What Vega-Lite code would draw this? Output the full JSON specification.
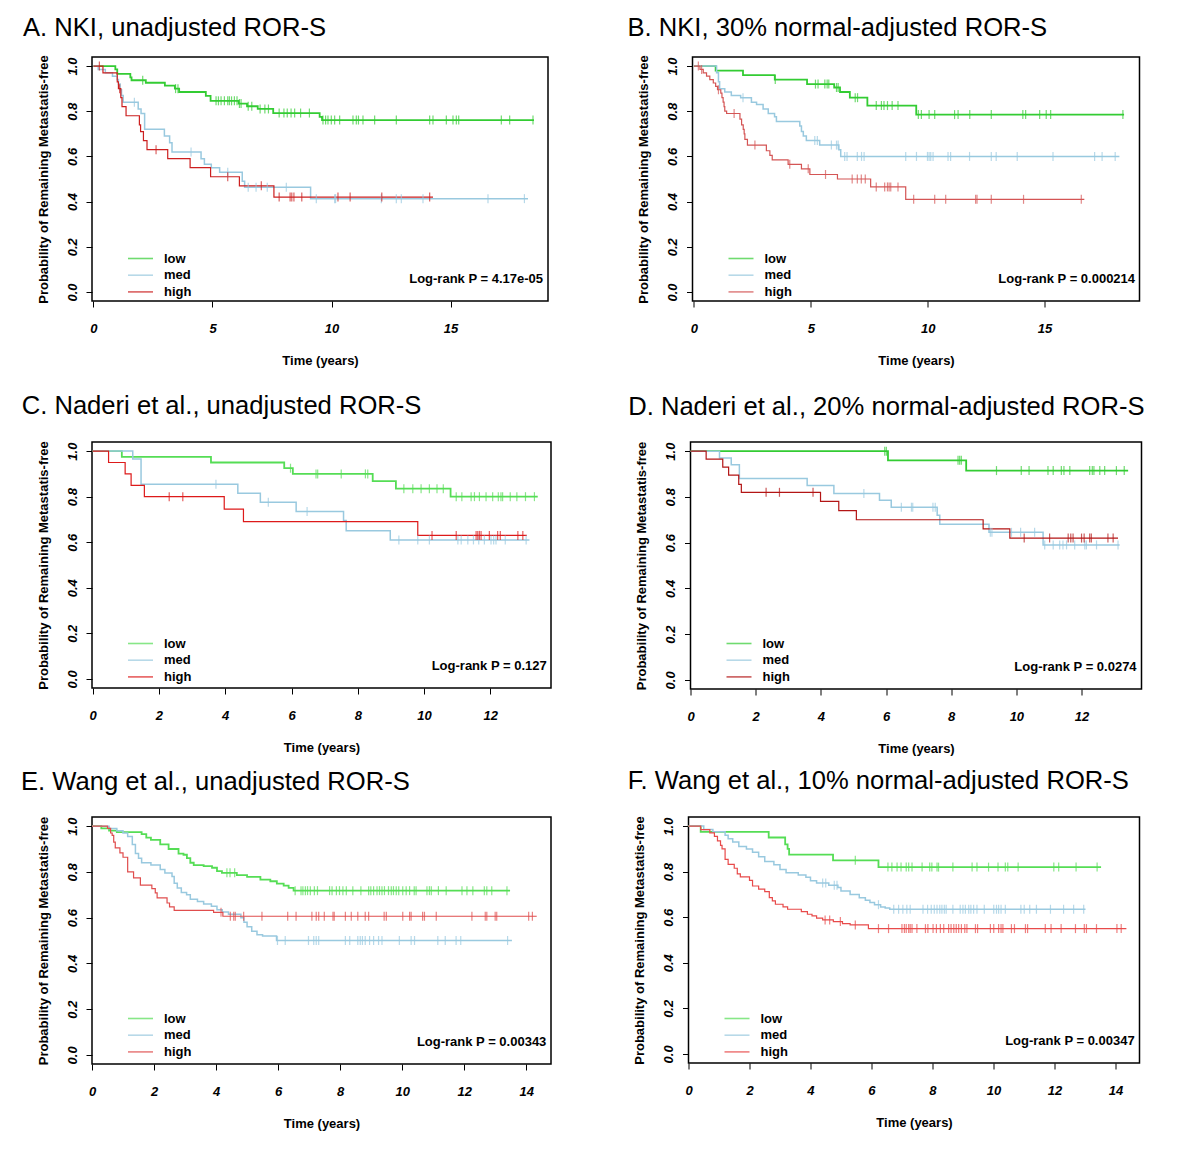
{
"$schema": "https://vega.github.io/schema/vega-lite/v6.json",
"background": "white",
"padding": {"left": 20, "top": 15, "right": 5, "bottom": 5},
"config": {
  "font": "Liberation Sans",
  "view": {"stroke": "black", "strokeWidth": 1.5},
  "title": {"font": "Liberation Sans", "fontSize": 25.6, "fontWeight": "normal", "color": "black", "anchor": "start", "frame": "bounds"},
  "axis": {"domain": false, "grid": false, "tickColor": "black", "tickSize": 6, "tickWidth": 1, "labelFont": "Liberation Sans", "labelFontSize": 13, "labelFontStyle": "italic", "labelFontWeight": "bold", "labelColor": "black", "labelFlush": false, "labelOverlap": false, "titleFont": "Liberation Sans", "titleFontSize": 13, "titleFontWeight": "bold", "titleColor": "black"},
  "axisX": {"labelPadding": 15, "titlePadding": 19},
  "axisY": {"labelAngle": 270, "labelAlign": "center", "labelBaseline": "bottom", "labelPadding": 7, "titlePadding": 16},
  "legend": {"orient": "none", "legendX": 35, "legendY": 194, "title": null, "symbolType": "stroke", "symbolSize": 625, "symbolStrokeWidth": 1.6, "clipHeight": 15, "rowPadding": 1.7, "labelFont": "Liberation Sans", "labelFontSize": 13, "labelFontWeight": "bold", "labelColor": "black", "labelOffset": 10, "padding": 0},
  "text": {"font": "Liberation Sans", "fontSize": 13, "fontWeight": "bold", "color": "black"}
},
"datasets": {
"A": [
{"group":"low","time":0,"surv":1,"type":"step"},{"group":"low","time":0.92,"surv":0.985,"type":"step"},{"group":"low","time":1.0,"surv":0.965,"type":"step"},{"group":"low","time":1.55,"surv":0.95,"type":"step"},{"group":"low","time":1.6,"surv":0.937,"type":"step"},{"group":"low","time":2.2,"surv":0.926,"type":"step"},{"group":"low","time":3.0,"surv":0.913,"type":"step"},{"group":"low","time":3.42,"surv":0.9,"type":"step"},{"group":"low","time":3.6,"surv":0.885,"type":"step"},{"group":"low","time":4.72,"surv":0.868,"type":"step"},{"group":"low","time":4.92,"surv":0.846,"type":"step"},{"group":"low","time":6.1,"surv":0.834,"type":"step"},{"group":"low","time":6.45,"surv":0.822,"type":"step"},{"group":"low","time":6.9,"surv":0.81,"type":"step"},{"group":"low","time":7.55,"surv":0.792,"type":"step"},{"group":"low","time":9.5,"surv":0.775,"type":"step"},{"group":"low","time":9.6,"surv":0.761,"type":"step"},{"group":"low","time":18.5,"surv":0.761,"type":"end"},
{"group":"low","time":2.07,"surv":0.937,"type":"censor"},{"group":"low","time":3.45,"surv":0.9,"type":"censor"},{"group":"low","time":3.55,"surv":0.9,"type":"censor"},
{"group":"low","time":5.15,"surv":0.846,"type":"censor"},{"group":"low","time":5.25,"surv":0.846,"type":"censor"},{"group":"low","time":5.36,"surv":0.846,"type":"censor"},{"group":"low","time":5.5,"surv":0.846,"type":"censor"},{"group":"low","time":5.64,"surv":0.846,"type":"censor"},{"group":"low","time":5.71,"surv":0.846,"type":"censor"},{"group":"low","time":5.8,"surv":0.846,"type":"censor"},{"group":"low","time":5.92,"surv":0.846,"type":"censor"},{"group":"low","time":6.03,"surv":0.846,"type":"censor"},
{"group":"low","time":6.13,"surv":0.834,"type":"censor"},{"group":"low","time":6.2,"surv":0.834,"type":"censor"},{"group":"low","time":6.5,"surv":0.822,"type":"censor"},{"group":"low","time":6.65,"surv":0.822,"type":"censor"},{"group":"low","time":7.0,"surv":0.81,"type":"censor"},{"group":"low","time":7.2,"surv":0.81,"type":"censor"},{"group":"low","time":7.35,"surv":0.81,"type":"censor"},
{"group":"low","time":7.8,"surv":0.792,"type":"censor"},{"group":"low","time":8.0,"surv":0.792,"type":"censor"},{"group":"low","time":8.14,"surv":0.792,"type":"censor"},{"group":"low","time":8.3,"surv":0.792,"type":"censor"},{"group":"low","time":8.45,"surv":0.792,"type":"censor"},{"group":"low","time":8.7,"surv":0.792,"type":"censor"},{"group":"low","time":9.07,"surv":0.792,"type":"censor"},
{"group":"low","time":9.64,"surv":0.761,"type":"censor"},{"group":"low","time":9.75,"surv":0.761,"type":"censor"},{"group":"low","time":9.85,"surv":0.761,"type":"censor"},{"group":"low","time":9.99,"surv":0.761,"type":"censor"},{"group":"low","time":10.13,"surv":0.761,"type":"censor"},{"group":"low","time":10.34,"surv":0.761,"type":"censor"},{"group":"low","time":10.9,"surv":0.761,"type":"censor"},{"group":"low","time":11.04,"surv":0.761,"type":"censor"},{"group":"low","time":11.13,"surv":0.761,"type":"censor"},{"group":"low","time":11.32,"surv":0.761,"type":"censor"},{"group":"low","time":11.81,"surv":0.761,"type":"censor"},{"group":"low","time":12.72,"surv":0.761,"type":"censor"},{"group":"low","time":14.12,"surv":0.761,"type":"censor"},{"group":"low","time":14.26,"surv":0.761,"type":"censor"},{"group":"low","time":14.82,"surv":0.761,"type":"censor"},{"group":"low","time":15.1,"surv":0.761,"type":"censor"},{"group":"low","time":15.24,"surv":0.761,"type":"censor"},{"group":"low","time":15.34,"surv":0.761,"type":"censor"},{"group":"low","time":17.13,"surv":0.761,"type":"censor"},{"group":"low","time":17.48,"surv":0.761,"type":"censor"},{"group":"low","time":18.46,"surv":0.761,"type":"censor"},
{"group":"med","time":0,"surv":1,"type":"step"},{"group":"med","time":0.2,"surv":0.985,"type":"step"},{"group":"med","time":0.5,"surv":0.97,"type":"step"},{"group":"med","time":0.8,"surv":0.955,"type":"step"},{"group":"med","time":1.0,"surv":0.94,"type":"step"},{"group":"med","time":1.05,"surv":0.92,"type":"step"},{"group":"med","time":1.12,"surv":0.895,"type":"step"},{"group":"med","time":1.18,"surv":0.87,"type":"step"},{"group":"med","time":1.25,"surv":0.84,"type":"step"},{"group":"med","time":1.88,"surv":0.81,"type":"step"},{"group":"med","time":2.0,"surv":0.79,"type":"step"},{"group":"med","time":2.15,"surv":0.72,"type":"step"},{"group":"med","time":2.98,"surv":0.69,"type":"step"},{"group":"med","time":3.2,"surv":0.66,"type":"step"},{"group":"med","time":3.3,"surv":0.62,"type":"step"},{"group":"med","time":4.52,"surv":0.59,"type":"step"},{"group":"med","time":4.66,"surv":0.565,"type":"step"},{"group":"med","time":4.95,"surv":0.55,"type":"step"},{"group":"med","time":5.3,"surv":0.53,"type":"step"},{"group":"med","time":6.25,"surv":0.49,"type":"step"},{"group":"med","time":6.35,"surv":0.463,"type":"step"},{"group":"med","time":9.12,"surv":0.413,"type":"step"},{"group":"med","time":18.25,"surv":0.413,"type":"end"},
{"group":"med","time":1.72,"surv":0.84,"type":"censor"},{"group":"med","time":4.1,"surv":0.62,"type":"censor"},{"group":"med","time":5.64,"surv":0.53,"type":"censor"},{"group":"med","time":6.5,"surv":0.463,"type":"censor"},{"group":"med","time":6.83,"surv":0.463,"type":"censor"},{"group":"med","time":7.3,"surv":0.463,"type":"censor"},{"group":"med","time":8.1,"surv":0.463,"type":"censor"},
{"group":"med","time":9.36,"surv":0.413,"type":"censor"},{"group":"med","time":10.13,"surv":0.413,"type":"censor"},{"group":"med","time":10.17,"surv":0.413,"type":"censor"},{"group":"med","time":12.09,"surv":0.413,"type":"censor"},{"group":"med","time":12.72,"surv":0.413,"type":"censor"},{"group":"med","time":12.93,"surv":0.413,"type":"censor"},{"group":"med","time":13.84,"surv":0.413,"type":"censor"},{"group":"med","time":16.57,"surv":0.413,"type":"censor"},{"group":"med","time":18.1,"surv":0.413,"type":"censor"},
{"group":"high","time":0,"surv":1,"type":"step"},{"group":"high","time":0.4,"surv":0.97,"type":"step"},{"group":"high","time":1.0,"surv":0.93,"type":"step"},{"group":"high","time":1.05,"surv":0.9,"type":"step"},{"group":"high","time":1.15,"surv":0.86,"type":"step"},{"group":"high","time":1.2,"surv":0.82,"type":"step"},{"group":"high","time":1.37,"surv":0.78,"type":"step"},{"group":"high","time":1.93,"surv":0.74,"type":"step"},{"group":"high","time":1.98,"surv":0.71,"type":"step"},{"group":"high","time":2.1,"surv":0.67,"type":"step"},{"group":"high","time":2.25,"surv":0.63,"type":"step"},{"group":"high","time":3.12,"surv":0.59,"type":"step"},{"group":"high","time":4.06,"surv":0.55,"type":"step"},{"group":"high","time":4.92,"surv":0.51,"type":"step"},{"group":"high","time":6.13,"surv":0.47,"type":"step"},{"group":"high","time":7.58,"surv":0.42,"type":"step"},{"group":"high","time":14.26,"surv":0.42,"type":"end"},
{"group":"high","time":0.25,"surv":1,"type":"censor"},{"group":"high","time":1.1,"surv":0.9,"type":"censor"},{"group":"high","time":2.63,"surv":0.63,"type":"censor"},{"group":"high","time":5.64,"surv":0.51,"type":"censor"},{"group":"high","time":7.05,"surv":0.47,"type":"censor"},
{"group":"high","time":7.8,"surv":0.42,"type":"censor"},{"group":"high","time":8.26,"surv":0.42,"type":"censor"},{"group":"high","time":8.33,"surv":0.42,"type":"censor"},{"group":"high","time":8.42,"surv":0.42,"type":"censor"},{"group":"high","time":8.75,"surv":0.42,"type":"censor"},{"group":"high","time":10.27,"surv":0.42,"type":"censor"},{"group":"high","time":10.78,"surv":0.42,"type":"censor"},{"group":"high","time":12.11,"surv":0.42,"type":"censor"},{"group":"high","time":14.12,"surv":0.42,"type":"censor"}
],
"B": [
{"group":"low","time":0,"surv":1,"type":"step"},{"group":"low","time":0.93,"surv":0.98,"type":"step"},{"group":"low","time":2.1,"surv":0.96,"type":"step"},{"group":"low","time":3.46,"surv":0.94,"type":"step"},{"group":"low","time":4.84,"surv":0.92,"type":"step"},{"group":"low","time":6.0,"surv":0.905,"type":"step"},{"group":"low","time":6.25,"surv":0.885,"type":"step"},{"group":"low","time":6.67,"surv":0.86,"type":"step"},{"group":"low","time":7.42,"surv":0.825,"type":"step"},{"group":"low","time":9.51,"surv":0.785,"type":"step"},{"group":"low","time":18.4,"surv":0.785,"type":"end"},
{"group":"low","time":3.48,"surv":0.94,"type":"censor"},{"group":"low","time":5.2,"surv":0.92,"type":"censor"},{"group":"low","time":5.31,"surv":0.92,"type":"censor"},{"group":"low","time":5.6,"surv":0.92,"type":"censor"},{"group":"low","time":5.7,"surv":0.92,"type":"censor"},{"group":"low","time":5.77,"surv":0.92,"type":"censor"},{"group":"low","time":6.1,"surv":0.905,"type":"censor"},{"group":"low","time":6.17,"surv":0.905,"type":"censor"},{"group":"low","time":6.9,"surv":0.86,"type":"censor"},{"group":"low","time":7.0,"surv":0.86,"type":"censor"},
{"group":"low","time":7.8,"surv":0.825,"type":"censor"},{"group":"low","time":8.02,"surv":0.825,"type":"censor"},{"group":"low","time":8.13,"surv":0.825,"type":"censor"},{"group":"low","time":8.28,"surv":0.825,"type":"censor"},{"group":"low","time":8.48,"surv":0.825,"type":"censor"},{"group":"low","time":8.73,"surv":0.825,"type":"censor"},
{"group":"low","time":9.6,"surv":0.785,"type":"censor"},{"group":"low","time":9.73,"surv":0.785,"type":"censor"},{"group":"low","time":10.06,"surv":0.785,"type":"censor"},{"group":"low","time":10.3,"surv":0.785,"type":"censor"},{"group":"low","time":11.15,"surv":0.785,"type":"censor"},{"group":"low","time":11.3,"surv":0.785,"type":"censor"},{"group":"low","time":11.8,"surv":0.785,"type":"censor"},{"group":"low","time":12.72,"surv":0.785,"type":"censor"},{"group":"low","time":14.07,"surv":0.785,"type":"censor"},{"group":"low","time":14.19,"surv":0.785,"type":"censor"},{"group":"low","time":14.79,"surv":0.785,"type":"censor"},{"group":"low","time":15.07,"surv":0.785,"type":"censor"},{"group":"low","time":15.26,"surv":0.785,"type":"censor"},{"group":"low","time":18.35,"surv":0.785,"type":"censor"},
{"group":"med","time":0,"surv":1,"type":"step"},{"group":"med","time":0.97,"surv":0.97,"type":"step"},{"group":"med","time":1.05,"surv":0.93,"type":"step"},{"group":"med","time":1.1,"surv":0.9,"type":"step"},{"group":"med","time":1.32,"surv":0.885,"type":"step"},{"group":"med","time":1.6,"surv":0.87,"type":"step"},{"group":"med","time":2.0,"surv":0.86,"type":"step"},{"group":"med","time":2.46,"surv":0.84,"type":"step"},{"group":"med","time":2.68,"surv":0.83,"type":"step"},{"group":"med","time":2.96,"surv":0.81,"type":"step"},{"group":"med","time":3.18,"surv":0.79,"type":"step"},{"group":"med","time":3.45,"surv":0.775,"type":"step"},{"group":"med","time":3.53,"surv":0.755,"type":"step"},{"group":"med","time":4.53,"surv":0.735,"type":"step"},{"group":"med","time":4.6,"surv":0.71,"type":"step"},{"group":"med","time":4.68,"surv":0.69,"type":"step"},{"group":"med","time":4.81,"surv":0.67,"type":"step"},{"group":"med","time":5.38,"surv":0.65,"type":"step"},{"group":"med","time":6.2,"surv":0.63,"type":"step"},{"group":"med","time":6.28,"surv":0.6,"type":"step"},{"group":"med","time":18.2,"surv":0.6,"type":"end"},
{"group":"med","time":2.1,"surv":0.86,"type":"censor"},{"group":"med","time":5.17,"surv":0.67,"type":"censor"},{"group":"med","time":5.28,"surv":0.67,"type":"censor"},{"group":"med","time":5.88,"surv":0.65,"type":"censor"},{"group":"med","time":6.1,"surv":0.65,"type":"censor"},{"group":"med","time":6.17,"surv":0.65,"type":"censor"},
{"group":"med","time":6.45,"surv":0.6,"type":"censor"},{"group":"med","time":6.55,"surv":0.6,"type":"censor"},{"group":"med","time":6.99,"surv":0.6,"type":"censor"},{"group":"med","time":7.17,"surv":0.6,"type":"censor"},{"group":"med","time":7.28,"surv":0.6,"type":"censor"},{"group":"med","time":9.06,"surv":0.6,"type":"censor"},{"group":"med","time":9.52,"surv":0.6,"type":"censor"},{"group":"med","time":9.99,"surv":0.6,"type":"censor"},{"group":"med","time":10.06,"surv":0.6,"type":"censor"},{"group":"med","time":10.13,"surv":0.6,"type":"censor"},{"group":"med","time":10.23,"surv":0.6,"type":"censor"},{"group":"med","time":10.87,"surv":0.6,"type":"censor"},{"group":"med","time":10.98,"surv":0.6,"type":"censor"},{"group":"med","time":11.79,"surv":0.6,"type":"censor"},{"group":"med","time":12.72,"surv":0.6,"type":"censor"},{"group":"med","time":12.93,"surv":0.6,"type":"censor"},{"group":"med","time":13.83,"surv":0.6,"type":"censor"},{"group":"med","time":15.36,"surv":0.6,"type":"censor"},{"group":"med","time":17.14,"surv":0.6,"type":"censor"},{"group":"med","time":17.46,"surv":0.6,"type":"censor"},{"group":"med","time":18.02,"surv":0.6,"type":"censor"},
{"group":"high","time":0,"surv":1,"type":"step"},{"group":"high","time":0.26,"surv":0.985,"type":"step"},{"group":"high","time":0.4,"surv":0.97,"type":"step"},{"group":"high","time":0.54,"surv":0.955,"type":"step"},{"group":"high","time":0.68,"surv":0.94,"type":"step"},{"group":"high","time":0.83,"surv":0.925,"type":"step"},{"group":"high","time":0.93,"surv":0.91,"type":"step"},{"group":"high","time":1.01,"surv":0.895,"type":"step"},{"group":"high","time":1.15,"surv":0.88,"type":"step"},{"group":"high","time":1.2,"surv":0.86,"type":"step"},{"group":"high","time":1.25,"surv":0.84,"type":"step"},{"group":"high","time":1.29,"surv":0.82,"type":"step"},{"group":"high","time":1.32,"surv":0.8,"type":"step"},{"group":"high","time":1.4,"surv":0.79,"type":"step"},{"group":"high","time":1.97,"surv":0.765,"type":"step"},{"group":"high","time":2.04,"surv":0.74,"type":"step"},{"group":"high","time":2.11,"surv":0.72,"type":"step"},{"group":"high","time":2.15,"surv":0.7,"type":"step"},{"group":"high","time":2.18,"surv":0.675,"type":"step"},{"group":"high","time":2.29,"surv":0.65,"type":"step"},{"group":"high","time":3.1,"surv":0.625,"type":"step"},{"group":"high","time":3.25,"surv":0.605,"type":"step"},{"group":"high","time":3.35,"surv":0.585,"type":"step"},{"group":"high","time":4.03,"surv":0.565,"type":"step"},{"group":"high","time":4.6,"surv":0.545,"type":"step"},{"group":"high","time":4.96,"surv":0.52,"type":"step"},{"group":"high","time":6.14,"surv":0.5,"type":"step"},{"group":"high","time":7.56,"surv":0.465,"type":"step"},{"group":"high","time":9.06,"surv":0.41,"type":"step"},{"group":"high","time":16.7,"surv":0.41,"type":"end"},
{"group":"high","time":0.19,"surv":1,"type":"censor"},{"group":"high","time":0.33,"surv":0.985,"type":"censor"},{"group":"high","time":1.05,"surv":0.895,"type":"censor"},{"group":"high","time":1.72,"surv":0.79,"type":"censor"},{"group":"high","time":2.61,"surv":0.65,"type":"censor"},{"group":"high","time":4.1,"surv":0.565,"type":"censor"},{"group":"high","time":4.89,"surv":0.545,"type":"censor"},{"group":"high","time":5.63,"surv":0.52,"type":"censor"},
{"group":"high","time":6.77,"surv":0.5,"type":"censor"},{"group":"high","time":6.99,"surv":0.5,"type":"censor"},{"group":"high","time":7.16,"surv":0.5,"type":"censor"},{"group":"high","time":7.33,"surv":0.5,"type":"censor"},
{"group":"high","time":7.8,"surv":0.465,"type":"censor"},{"group":"high","time":8.16,"surv":0.465,"type":"censor"},{"group":"high","time":8.28,"surv":0.465,"type":"censor"},{"group":"high","time":8.35,"surv":0.465,"type":"censor"},{"group":"high","time":8.42,"surv":0.465,"type":"censor"},{"group":"high","time":8.73,"surv":0.465,"type":"censor"},
{"group":"high","time":9.4,"surv":0.41,"type":"censor"},{"group":"high","time":10.3,"surv":0.41,"type":"censor"},{"group":"high","time":10.77,"surv":0.41,"type":"censor"},{"group":"high","time":12.05,"surv":0.41,"type":"censor"},{"group":"high","time":12.11,"surv":0.41,"type":"censor"},{"group":"high","time":12.72,"surv":0.41,"type":"censor"},{"group":"high","time":14.1,"surv":0.41,"type":"censor"},{"group":"high","time":16.57,"surv":0.41,"type":"censor"}
],
"C": [
{"group":"low","time":0,"surv":1,"type":"step"},{"group":"low","time":0.88,"surv":0.975,"type":"step"},{"group":"low","time":3.57,"surv":0.95,"type":"step"},{"group":"low","time":5.78,"surv":0.925,"type":"step"},{"group":"low","time":6.04,"surv":0.9,"type":"step"},{"group":"low","time":8.45,"surv":0.868,"type":"step"},{"group":"low","time":9.15,"surv":0.835,"type":"step"},{"group":"low","time":10.8,"surv":0.8,"type":"step"},{"group":"low","time":13.43,"surv":0.8,"type":"end"},
{"group":"low","time":5.97,"surv":0.925,"type":"censor"},{"group":"low","time":6.74,"surv":0.9,"type":"censor"},{"group":"low","time":6.79,"surv":0.9,"type":"censor"},{"group":"low","time":7.5,"surv":0.9,"type":"censor"},{"group":"low","time":8.23,"surv":0.9,"type":"censor"},{"group":"low","time":8.3,"surv":0.9,"type":"censor"},
{"group":"low","time":9.39,"surv":0.835,"type":"censor"},{"group":"low","time":9.66,"surv":0.835,"type":"censor"},{"group":"low","time":9.91,"surv":0.835,"type":"censor"},{"group":"low","time":10.16,"surv":0.835,"type":"censor"},{"group":"low","time":10.39,"surv":0.835,"type":"censor"},{"group":"low","time":10.58,"surv":0.835,"type":"censor"},
{"group":"low","time":10.97,"surv":0.8,"type":"censor"},{"group":"low","time":11.14,"surv":0.8,"type":"censor"},{"group":"low","time":11.42,"surv":0.8,"type":"censor"},{"group":"low","time":11.52,"surv":0.8,"type":"censor"},{"group":"low","time":11.67,"surv":0.8,"type":"censor"},{"group":"low","time":11.87,"surv":0.8,"type":"censor"},{"group":"low","time":12.07,"surv":0.8,"type":"censor"},{"group":"low","time":12.24,"surv":0.8,"type":"censor"},{"group":"low","time":12.32,"surv":0.8,"type":"censor"},{"group":"low","time":12.37,"surv":0.8,"type":"censor"},{"group":"low","time":12.6,"surv":0.8,"type":"censor"},{"group":"low","time":12.8,"surv":0.8,"type":"censor"},{"group":"low","time":13.06,"surv":0.8,"type":"censor"},{"group":"low","time":13.33,"surv":0.8,"type":"censor"},
{"group":"med","time":0,"surv":1,"type":"step"},{"group":"med","time":1.21,"surv":0.965,"type":"step"},{"group":"med","time":1.46,"surv":0.855,"type":"step"},{"group":"med","time":4.38,"surv":0.815,"type":"step"},{"group":"med","time":5.06,"surv":0.775,"type":"step"},{"group":"med","time":6.14,"surv":0.735,"type":"step"},{"group":"med","time":7.57,"surv":0.695,"type":"step"},{"group":"med","time":7.65,"surv":0.65,"type":"step"},{"group":"med","time":8.98,"surv":0.61,"type":"step"},{"group":"med","time":13.18,"surv":0.61,"type":"end"},
{"group":"med","time":3.72,"surv":0.855,"type":"censor"},{"group":"med","time":5.3,"surv":0.775,"type":"censor"},{"group":"med","time":6.47,"surv":0.735,"type":"censor"},
{"group":"med","time":9.24,"surv":0.61,"type":"censor"},{"group":"med","time":9.81,"surv":0.61,"type":"censor"},{"group":"med","time":10.16,"surv":0.61,"type":"censor"},{"group":"med","time":11.02,"surv":0.61,"type":"censor"},{"group":"med","time":11.12,"surv":0.61,"type":"censor"},{"group":"med","time":11.32,"surv":0.61,"type":"censor"},{"group":"med","time":11.49,"surv":0.61,"type":"censor"},{"group":"med","time":11.65,"surv":0.61,"type":"censor"},{"group":"med","time":11.82,"surv":0.61,"type":"censor"},{"group":"med","time":12.02,"surv":0.61,"type":"censor"},{"group":"med","time":12.1,"surv":0.61,"type":"censor"},{"group":"med","time":12.17,"surv":0.61,"type":"censor"},{"group":"med","time":12.45,"surv":0.61,"type":"censor"},{"group":"med","time":13.08,"surv":0.61,"type":"censor"},
{"group":"high","time":0,"surv":1,"type":"step"},{"group":"high","time":0.48,"surv":0.95,"type":"step"},{"group":"high","time":0.98,"surv":0.9,"type":"step"},{"group":"high","time":1.16,"surv":0.85,"type":"step"},{"group":"high","time":1.56,"surv":0.8,"type":"step"},{"group":"high","time":3.97,"surv":0.745,"type":"step"},{"group":"high","time":4.55,"surv":0.69,"type":"step"},{"group":"high","time":9.81,"surv":0.63,"type":"step"},{"group":"high","time":13.1,"surv":0.63,"type":"end"},
{"group":"high","time":2.31,"surv":0.8,"type":"censor"},{"group":"high","time":2.72,"surv":0.8,"type":"censor"},
{"group":"high","time":10.24,"surv":0.63,"type":"censor"},{"group":"high","time":10.97,"surv":0.63,"type":"censor"},{"group":"high","time":11.57,"surv":0.63,"type":"censor"},{"group":"high","time":11.62,"surv":0.63,"type":"censor"},{"group":"high","time":11.67,"surv":0.63,"type":"censor"},{"group":"high","time":11.72,"surv":0.63,"type":"censor"},{"group":"high","time":11.97,"surv":0.63,"type":"censor"},{"group":"high","time":12.22,"surv":0.63,"type":"censor"},{"group":"high","time":12.3,"surv":0.63,"type":"censor"},{"group":"high","time":12.83,"surv":0.63,"type":"censor"},{"group":"high","time":12.98,"surv":0.63,"type":"censor"}
],
"D": [
{"group":"low","time":0,"surv":1,"type":"step"},{"group":"low","time":6.06,"surv":0.96,"type":"step"},{"group":"low","time":8.46,"surv":0.915,"type":"step"},{"group":"low","time":13.43,"surv":0.915,"type":"end"},
{"group":"low","time":5.96,"surv":1,"type":"censor"},{"group":"low","time":6.01,"surv":1,"type":"censor"},{"group":"low","time":8.21,"surv":0.96,"type":"censor"},{"group":"low","time":8.26,"surv":0.96,"type":"censor"},{"group":"low","time":8.31,"surv":0.96,"type":"censor"},
{"group":"low","time":9.39,"surv":0.915,"type":"censor"},{"group":"low","time":10.15,"surv":0.915,"type":"censor"},{"group":"low","time":10.39,"surv":0.915,"type":"censor"},{"group":"low","time":10.97,"surv":0.915,"type":"censor"},{"group":"low","time":11.13,"surv":0.915,"type":"censor"},{"group":"low","time":11.38,"surv":0.915,"type":"censor"},{"group":"low","time":11.46,"surv":0.915,"type":"censor"},{"group":"low","time":11.64,"surv":0.915,"type":"censor"},{"group":"low","time":12.25,"surv":0.915,"type":"censor"},{"group":"low","time":12.33,"surv":0.915,"type":"censor"},{"group":"low","time":12.38,"surv":0.915,"type":"censor"},{"group":"low","time":12.56,"surv":0.915,"type":"censor"},{"group":"low","time":12.71,"surv":0.915,"type":"censor"},{"group":"low","time":13.07,"surv":0.915,"type":"censor"},{"group":"low","time":13.31,"surv":0.915,"type":"censor"},
{"group":"med","time":0,"surv":1,"type":"step"},{"group":"med","time":0.89,"surv":0.97,"type":"step"},{"group":"med","time":1.25,"surv":0.94,"type":"step"},{"group":"med","time":1.5,"surv":0.88,"type":"step"},{"group":"med","time":3.58,"surv":0.85,"type":"step"},{"group":"med","time":4.4,"surv":0.815,"type":"step"},{"group":"med","time":5.8,"surv":0.785,"type":"step"},{"group":"med","time":6.16,"surv":0.755,"type":"step"},{"group":"med","time":7.57,"surv":0.72,"type":"step"},{"group":"med","time":7.65,"surv":0.68,"type":"step"},{"group":"med","time":9.16,"surv":0.645,"type":"step"},{"group":"med","time":10.82,"surv":0.59,"type":"step"},{"group":"med","time":13.17,"surv":0.59,"type":"end"},
{"group":"med","time":5.32,"surv":0.815,"type":"censor"},{"group":"med","time":6.47,"surv":0.755,"type":"censor"},{"group":"med","time":6.78,"surv":0.755,"type":"censor"},{"group":"med","time":6.82,"surv":0.755,"type":"censor"},{"group":"med","time":7.44,"surv":0.755,"type":"censor"},{"group":"med","time":7.51,"surv":0.755,"type":"censor"},
{"group":"med","time":9.2,"surv":0.645,"type":"censor"},{"group":"med","time":9.25,"surv":0.645,"type":"censor"},{"group":"med","time":9.85,"surv":0.645,"type":"censor"},{"group":"med","time":10.13,"surv":0.645,"type":"censor"},{"group":"med","time":10.56,"surv":0.645,"type":"censor"},
{"group":"med","time":10.87,"surv":0.59,"type":"censor"},{"group":"med","time":11.13,"surv":0.59,"type":"censor"},{"group":"med","time":11.33,"surv":0.59,"type":"censor"},{"group":"med","time":11.43,"surv":0.59,"type":"censor"},{"group":"med","time":11.54,"surv":0.59,"type":"censor"},{"group":"med","time":11.79,"surv":0.59,"type":"censor"},{"group":"med","time":12.1,"surv":0.59,"type":"censor"},{"group":"med","time":12.15,"surv":0.59,"type":"censor"},{"group":"med","time":12.46,"surv":0.59,"type":"censor"},{"group":"med","time":13.12,"surv":0.59,"type":"censor"},
{"group":"high","time":0,"surv":1,"type":"step"},{"group":"high","time":0.48,"surv":0.965,"type":"step"},{"group":"high","time":0.99,"surv":0.93,"type":"step"},{"group":"high","time":1.17,"surv":0.895,"type":"step"},{"group":"high","time":1.48,"surv":0.855,"type":"step"},{"group":"high","time":1.56,"surv":0.82,"type":"step"},{"group":"high","time":3.99,"surv":0.78,"type":"step"},{"group":"high","time":4.55,"surv":0.74,"type":"step"},{"group":"high","time":5.09,"surv":0.7,"type":"step"},{"group":"high","time":8.98,"surv":0.66,"type":"step"},{"group":"high","time":9.8,"surv":0.62,"type":"step"},{"group":"high","time":13.12,"surv":0.62,"type":"end"},
{"group":"high","time":2.32,"surv":0.82,"type":"censor"},{"group":"high","time":2.73,"surv":0.82,"type":"censor"},{"group":"high","time":3.76,"surv":0.82,"type":"censor"},
{"group":"high","time":10.24,"surv":0.62,"type":"censor"},{"group":"high","time":11.02,"surv":0.62,"type":"censor"},{"group":"high","time":11.59,"surv":0.62,"type":"censor"},{"group":"high","time":11.67,"surv":0.62,"type":"censor"},{"group":"high","time":11.74,"surv":0.62,"type":"censor"},{"group":"high","time":12.0,"surv":0.62,"type":"censor"},{"group":"high","time":12.08,"surv":0.62,"type":"censor"},{"group":"high","time":12.25,"surv":0.62,"type":"censor"},{"group":"high","time":12.3,"surv":0.62,"type":"censor"},{"group":"high","time":12.81,"surv":0.62,"type":"censor"},{"group":"high","time":12.97,"surv":0.62,"type":"censor"}
],
"E": [
{"group":"low","time":0,"surv":1,"type":"step"},{"group":"low","time":0.3,"surv":0.99,"type":"step"},{"group":"low","time":0.55,"surv":0.98,"type":"step"},{"group":"low","time":0.8,"surv":0.974,"type":"step"},{"group":"low","time":1.6,"surv":0.965,"type":"step"},{"group":"low","time":1.75,"surv":0.95,"type":"step"},{"group":"low","time":1.9,"surv":0.94,"type":"step"},{"group":"low","time":2.2,"surv":0.92,"type":"step"},{"group":"low","time":2.47,"surv":0.9,"type":"step"},{"group":"low","time":2.79,"surv":0.88,"type":"step"},{"group":"low","time":2.95,"surv":0.875,"type":"step"},{"group":"low","time":3.06,"surv":0.86,"type":"step"},{"group":"low","time":3.17,"surv":0.84,"type":"step"},{"group":"low","time":3.28,"surv":0.83,"type":"step"},{"group":"low","time":3.6,"surv":0.825,"type":"step"},{"group":"low","time":3.87,"surv":0.818,"type":"step"},{"group":"low","time":4.03,"surv":0.803,"type":"step"},{"group":"low","time":4.19,"surv":0.796,"type":"step"},{"group":"low","time":4.67,"surv":0.786,"type":"step"},{"group":"low","time":5.0,"surv":0.778,"type":"step"},{"group":"low","time":5.43,"surv":0.766,"type":"step"},{"group":"low","time":5.75,"surv":0.759,"type":"step"},{"group":"low","time":5.96,"surv":0.749,"type":"step"},{"group":"low","time":6.18,"surv":0.74,"type":"step"},{"group":"low","time":6.34,"surv":0.73,"type":"step"},{"group":"low","time":6.5,"surv":0.718,"type":"step"},{"group":"low","time":13.48,"surv":0.718,"type":"end"},
{"group":"low","time":4.35,"surv":0.796,"type":"censor"},{"group":"low","time":4.45,"surv":0.796,"type":"censor"},{"group":"low","time":4.6,"surv":0.796,"type":"censor"},
{"group":"low","time":6.55,"surv":0.718,"type":"censor"},{"group":"low","time":6.74,"surv":0.718,"type":"censor"},{"group":"low","time":6.8,"surv":0.718,"type":"censor"},{"group":"low","time":6.88,"surv":0.718,"type":"censor"},{"group":"low","time":6.95,"surv":0.718,"type":"censor"},{"group":"low","time":7.04,"surv":0.718,"type":"censor"},{"group":"low","time":7.17,"surv":0.718,"type":"censor"},{"group":"low","time":7.27,"surv":0.718,"type":"censor"},{"group":"low","time":7.66,"surv":0.718,"type":"censor"},{"group":"low","time":7.74,"surv":0.718,"type":"censor"},{"group":"low","time":7.88,"surv":0.718,"type":"censor"},{"group":"low","time":7.98,"surv":0.718,"type":"censor"},{"group":"low","time":8.09,"surv":0.718,"type":"censor"},{"group":"low","time":8.2,"surv":0.718,"type":"censor"},{"group":"low","time":8.41,"surv":0.718,"type":"censor"},{"group":"low","time":8.67,"surv":0.718,"type":"censor"},{"group":"low","time":8.92,"surv":0.718,"type":"censor"},{"group":"low","time":8.99,"surv":0.718,"type":"censor"},{"group":"low","time":9.08,"surv":0.718,"type":"censor"},{"group":"low","time":9.19,"surv":0.718,"type":"censor"},{"group":"low","time":9.27,"surv":0.718,"type":"censor"},{"group":"low","time":9.35,"surv":0.718,"type":"censor"},{"group":"low","time":9.43,"surv":0.718,"type":"censor"},{"group":"low","time":9.56,"surv":0.718,"type":"censor"},{"group":"low","time":9.65,"surv":0.718,"type":"censor"},{"group":"low","time":9.72,"surv":0.718,"type":"censor"},{"group":"low","time":9.81,"surv":0.718,"type":"censor"},{"group":"low","time":9.89,"surv":0.718,"type":"censor"},{"group":"low","time":10.02,"surv":0.718,"type":"censor"},{"group":"low","time":10.13,"surv":0.718,"type":"censor"},{"group":"low","time":10.24,"surv":0.718,"type":"censor"},{"group":"low","time":10.39,"surv":0.718,"type":"censor"},{"group":"low","time":10.45,"surv":0.718,"type":"censor"},{"group":"low","time":10.8,"surv":0.718,"type":"censor"},{"group":"low","time":10.88,"surv":0.718,"type":"censor"},{"group":"low","time":10.94,"surv":0.718,"type":"censor"},{"group":"low","time":11.17,"surv":0.718,"type":"censor"},{"group":"low","time":11.42,"surv":0.718,"type":"censor"},{"group":"low","time":11.93,"surv":0.718,"type":"censor"},{"group":"low","time":12.09,"surv":0.718,"type":"censor"},{"group":"low","time":12.28,"surv":0.718,"type":"censor"},{"group":"low","time":12.65,"surv":0.718,"type":"censor"},{"group":"low","time":12.73,"surv":0.718,"type":"censor"},{"group":"low","time":12.89,"surv":0.718,"type":"censor"},{"group":"low","time":13.38,"surv":0.718,"type":"censor"},
{"group":"med","time":0,"surv":1,"type":"step"},{"group":"med","time":0.55,"surv":0.99,"type":"step"},{"group":"med","time":0.8,"surv":0.98,"type":"step"},{"group":"med","time":1.0,"surv":0.97,"type":"step"},{"group":"med","time":1.15,"surv":0.955,"type":"step"},{"group":"med","time":1.3,"surv":0.92,"type":"step"},{"group":"med","time":1.4,"surv":0.88,"type":"step"},{"group":"med","time":1.5,"surv":0.86,"type":"step"},{"group":"med","time":1.6,"surv":0.84,"type":"step"},{"group":"med","time":1.9,"surv":0.83,"type":"step"},{"group":"med","time":2.2,"surv":0.81,"type":"step"},{"group":"med","time":2.35,"surv":0.795,"type":"step"},{"group":"med","time":2.58,"surv":0.78,"type":"step"},{"group":"med","time":2.65,"surv":0.75,"type":"step"},{"group":"med","time":2.75,"surv":0.73,"type":"step"},{"group":"med","time":2.88,"surv":0.71,"type":"step"},{"group":"med","time":3.05,"surv":0.7,"type":"step"},{"group":"med","time":3.17,"surv":0.68,"type":"step"},{"group":"med","time":3.4,"surv":0.67,"type":"step"},{"group":"med","time":3.6,"surv":0.66,"type":"step"},{"group":"med","time":3.85,"surv":0.65,"type":"step"},{"group":"med","time":4.03,"surv":0.635,"type":"step"},{"group":"med","time":4.2,"surv":0.625,"type":"step"},{"group":"med","time":4.4,"surv":0.615,"type":"step"},{"group":"med","time":4.8,"surv":0.6,"type":"step"},{"group":"med","time":4.9,"surv":0.58,"type":"step"},{"group":"med","time":5.0,"surv":0.56,"type":"step"},{"group":"med","time":5.15,"surv":0.54,"type":"step"},{"group":"med","time":5.32,"surv":0.525,"type":"step"},{"group":"med","time":5.5,"surv":0.52,"type":"step"},{"group":"med","time":5.95,"surv":0.5,"type":"step"},{"group":"med","time":13.54,"surv":0.5,"type":"end"},
{"group":"med","time":5.98,"surv":0.5,"type":"censor"},{"group":"med","time":6.23,"surv":0.5,"type":"censor"},{"group":"med","time":6.98,"surv":0.5,"type":"censor"},{"group":"med","time":7.15,"surv":0.5,"type":"censor"},{"group":"med","time":7.23,"surv":0.5,"type":"censor"},{"group":"med","time":7.31,"surv":0.5,"type":"censor"},{"group":"med","time":8.17,"surv":0.5,"type":"censor"},{"group":"med","time":8.31,"surv":0.5,"type":"censor"},{"group":"med","time":8.57,"surv":0.5,"type":"censor"},{"group":"med","time":8.65,"surv":0.5,"type":"censor"},{"group":"med","time":8.72,"surv":0.5,"type":"censor"},{"group":"med","time":8.81,"surv":0.5,"type":"censor"},{"group":"med","time":8.95,"surv":0.5,"type":"censor"},{"group":"med","time":9.08,"surv":0.5,"type":"censor"},{"group":"med","time":9.24,"surv":0.5,"type":"censor"},{"group":"med","time":9.35,"surv":0.5,"type":"censor"},{"group":"med","time":9.91,"surv":0.5,"type":"censor"},{"group":"med","time":10.29,"surv":0.5,"type":"censor"},{"group":"med","time":10.4,"surv":0.5,"type":"censor"},{"group":"med","time":11.15,"surv":0.5,"type":"censor"},{"group":"med","time":11.39,"surv":0.5,"type":"censor"},{"group":"med","time":11.74,"surv":0.5,"type":"censor"},{"group":"med","time":11.89,"surv":0.5,"type":"censor"},{"group":"med","time":13.4,"surv":0.5,"type":"censor"},
{"group":"high","time":0,"surv":1,"type":"step"},{"group":"high","time":0.5,"surv":0.99,"type":"step"},{"group":"high","time":0.6,"surv":0.97,"type":"step"},{"group":"high","time":0.65,"surv":0.96,"type":"step"},{"group":"high","time":0.7,"surv":0.93,"type":"step"},{"group":"high","time":0.75,"surv":0.905,"type":"step"},{"group":"high","time":0.9,"surv":0.883,"type":"step"},{"group":"high","time":1.0,"surv":0.864,"type":"step"},{"group":"high","time":1.15,"surv":0.8,"type":"step"},{"group":"high","time":1.34,"surv":0.774,"type":"step"},{"group":"high","time":1.56,"surv":0.742,"type":"step"},{"group":"high","time":1.93,"surv":0.727,"type":"step"},{"group":"high","time":2.04,"surv":0.708,"type":"step"},{"group":"high","time":2.1,"surv":0.686,"type":"step"},{"group":"high","time":2.42,"surv":0.664,"type":"step"},{"group":"high","time":2.5,"surv":0.647,"type":"step"},{"group":"high","time":2.65,"surv":0.632,"type":"step"},{"group":"high","time":3.92,"surv":0.623,"type":"step"},{"group":"high","time":4.22,"surv":0.606,"type":"step"},{"group":"high","time":14.34,"surv":0.606,"type":"end"},
{"group":"high","time":4.16,"surv":0.623,"type":"censor"},
{"group":"high","time":4.46,"surv":0.606,"type":"censor"},{"group":"high","time":4.57,"surv":0.606,"type":"censor"},{"group":"high","time":4.62,"surv":0.606,"type":"censor"},{"group":"high","time":4.89,"surv":0.606,"type":"censor"},{"group":"high","time":5.48,"surv":0.606,"type":"censor"},{"group":"high","time":6.31,"surv":0.606,"type":"censor"},{"group":"high","time":6.58,"surv":0.606,"type":"censor"},{"group":"high","time":7.09,"surv":0.606,"type":"censor"},{"group":"high","time":7.23,"surv":0.606,"type":"censor"},{"group":"high","time":7.31,"surv":0.606,"type":"censor"},{"group":"high","time":7.49,"surv":0.606,"type":"censor"},{"group":"high","time":7.77,"surv":0.606,"type":"censor"},{"group":"high","time":7.81,"surv":0.606,"type":"censor"},{"group":"high","time":8.17,"surv":0.606,"type":"censor"},{"group":"high","time":8.36,"surv":0.606,"type":"censor"},{"group":"high","time":8.57,"surv":0.606,"type":"censor"},{"group":"high","time":8.81,"surv":0.606,"type":"censor"},{"group":"high","time":8.92,"surv":0.606,"type":"censor"},{"group":"high","time":9.42,"surv":0.606,"type":"censor"},{"group":"high","time":9.49,"surv":0.606,"type":"censor"},{"group":"high","time":10.02,"surv":0.606,"type":"censor"},{"group":"high","time":10.24,"surv":0.606,"type":"censor"},{"group":"high","time":10.29,"surv":0.606,"type":"censor"},{"group":"high","time":10.66,"surv":0.606,"type":"censor"},{"group":"high","time":10.72,"surv":0.606,"type":"censor"},{"group":"high","time":11.1,"surv":0.606,"type":"censor"},{"group":"high","time":12.25,"surv":0.606,"type":"censor"},{"group":"high","time":12.68,"surv":0.606,"type":"censor"},{"group":"high","time":12.73,"surv":0.606,"type":"censor"},{"group":"high","time":13.0,"surv":0.606,"type":"censor"},{"group":"high","time":13.05,"surv":0.606,"type":"censor"},{"group":"high","time":14.08,"surv":0.606,"type":"censor"},{"group":"high","time":14.2,"surv":0.606,"type":"censor"}
],
"F": [
{"group":"low","time":0,"surv":1,"type":"step"},{"group":"low","time":0.4,"surv":0.975,"type":"step"},{"group":"low","time":2.63,"surv":0.95,"type":"step"},{"group":"low","time":3.17,"surv":0.92,"type":"step"},{"group":"low","time":3.25,"surv":0.9,"type":"step"},{"group":"low","time":3.3,"surv":0.875,"type":"step"},{"group":"low","time":4.74,"surv":0.85,"type":"step"},{"group":"low","time":6.23,"surv":0.82,"type":"step"},{"group":"low","time":13.53,"surv":0.82,"type":"end"},
{"group":"low","time":5.47,"surv":0.85,"type":"censor"},
{"group":"low","time":6.54,"surv":0.82,"type":"censor"},{"group":"low","time":6.67,"surv":0.82,"type":"censor"},{"group":"low","time":6.84,"surv":0.82,"type":"censor"},{"group":"low","time":6.97,"surv":0.82,"type":"censor"},{"group":"low","time":7.14,"surv":0.82,"type":"censor"},{"group":"low","time":7.22,"surv":0.82,"type":"censor"},{"group":"low","time":7.33,"surv":0.82,"type":"censor"},{"group":"low","time":7.66,"surv":0.82,"type":"censor"},{"group":"low","time":7.91,"surv":0.82,"type":"censor"},{"group":"low","time":7.98,"surv":0.82,"type":"censor"},{"group":"low","time":8.15,"surv":0.82,"type":"censor"},{"group":"low","time":8.2,"surv":0.82,"type":"censor"},{"group":"low","time":8.67,"surv":0.82,"type":"censor"},{"group":"low","time":9.3,"surv":0.82,"type":"censor"},{"group":"low","time":9.46,"surv":0.82,"type":"censor"},{"group":"low","time":9.84,"surv":0.82,"type":"censor"},{"group":"low","time":10.15,"surv":0.82,"type":"censor"},{"group":"low","time":10.39,"surv":0.82,"type":"censor"},{"group":"low","time":10.47,"surv":0.82,"type":"censor"},{"group":"low","time":10.81,"surv":0.82,"type":"censor"},{"group":"low","time":11.98,"surv":0.82,"type":"censor"},{"group":"low","time":12.14,"surv":0.82,"type":"censor"},{"group":"low","time":12.71,"surv":0.82,"type":"censor"},{"group":"low","time":13.4,"surv":0.82,"type":"censor"},
{"group":"med","time":0,"surv":1,"type":"step"},{"group":"med","time":0.5,"surv":0.985,"type":"step"},{"group":"med","time":0.8,"surv":0.975,"type":"step"},{"group":"med","time":1.2,"surv":0.96,"type":"step"},{"group":"med","time":1.3,"surv":0.945,"type":"step"},{"group":"med","time":1.45,"surv":0.93,"type":"step"},{"group":"med","time":1.65,"surv":0.91,"type":"step"},{"group":"med","time":1.9,"surv":0.9,"type":"step"},{"group":"med","time":2.1,"surv":0.885,"type":"step"},{"group":"med","time":2.3,"surv":0.865,"type":"step"},{"group":"med","time":2.5,"surv":0.845,"type":"step"},{"group":"med","time":2.8,"surv":0.83,"type":"step"},{"group":"med","time":3.0,"surv":0.81,"type":"step"},{"group":"med","time":3.2,"surv":0.795,"type":"step"},{"group":"med","time":3.6,"surv":0.785,"type":"step"},{"group":"med","time":3.85,"surv":0.775,"type":"step"},{"group":"med","time":4.0,"surv":0.76,"type":"step"},{"group":"med","time":4.2,"surv":0.75,"type":"step"},{"group":"med","time":4.6,"surv":0.74,"type":"step"},{"group":"med","time":4.9,"surv":0.73,"type":"step"},{"group":"med","time":5.0,"surv":0.715,"type":"step"},{"group":"med","time":5.3,"surv":0.7,"type":"step"},{"group":"med","time":5.6,"surv":0.685,"type":"step"},{"group":"med","time":5.8,"surv":0.675,"type":"step"},{"group":"med","time":5.95,"surv":0.665,"type":"step"},{"group":"med","time":6.1,"surv":0.655,"type":"step"},{"group":"med","time":6.3,"surv":0.645,"type":"step"},{"group":"med","time":6.45,"surv":0.64,"type":"step"},{"group":"med","time":6.6,"surv":0.635,"type":"step"},{"group":"med","time":13.02,"surv":0.635,"type":"end"},
{"group":"med","time":4.4,"surv":0.75,"type":"censor"},{"group":"med","time":4.5,"surv":0.75,"type":"censor"},{"group":"med","time":4.78,"surv":0.74,"type":"censor"},{"group":"med","time":4.87,"surv":0.74,"type":"censor"},{"group":"med","time":6.23,"surv":0.655,"type":"censor"},
{"group":"med","time":6.73,"surv":0.635,"type":"censor"},{"group":"med","time":6.89,"surv":0.635,"type":"censor"},{"group":"med","time":7.03,"surv":0.635,"type":"censor"},{"group":"med","time":7.16,"surv":0.635,"type":"censor"},{"group":"med","time":7.27,"surv":0.635,"type":"censor"},{"group":"med","time":7.69,"surv":0.635,"type":"censor"},{"group":"med","time":7.84,"surv":0.635,"type":"censor"},{"group":"med","time":7.96,"surv":0.635,"type":"censor"},{"group":"med","time":8.06,"surv":0.635,"type":"censor"},{"group":"med","time":8.15,"surv":0.635,"type":"censor"},{"group":"med","time":8.24,"surv":0.635,"type":"censor"},{"group":"med","time":8.31,"surv":0.635,"type":"censor"},{"group":"med","time":8.39,"surv":0.635,"type":"censor"},{"group":"med","time":8.45,"surv":0.635,"type":"censor"},{"group":"med","time":8.67,"surv":0.635,"type":"censor"},{"group":"med","time":8.91,"surv":0.635,"type":"censor"},{"group":"med","time":9.0,"surv":0.635,"type":"censor"},{"group":"med","time":9.08,"surv":0.635,"type":"censor"},{"group":"med","time":9.19,"surv":0.635,"type":"censor"},{"group":"med","time":9.26,"surv":0.635,"type":"censor"},{"group":"med","time":9.35,"surv":0.635,"type":"censor"},{"group":"med","time":9.46,"surv":0.635,"type":"censor"},{"group":"med","time":9.7,"surv":0.635,"type":"censor"},{"group":"med","time":10.01,"surv":0.635,"type":"censor"},{"group":"med","time":10.1,"surv":0.635,"type":"censor"},{"group":"med","time":10.17,"surv":0.635,"type":"censor"},{"group":"med","time":10.25,"surv":0.635,"type":"censor"},{"group":"med","time":10.39,"surv":0.635,"type":"censor"},{"group":"med","time":10.9,"surv":0.635,"type":"censor"},{"group":"med","time":11.01,"surv":0.635,"type":"censor"},{"group":"med","time":11.19,"surv":0.635,"type":"censor"},{"group":"med","time":11.41,"surv":0.635,"type":"censor"},{"group":"med","time":11.87,"surv":0.635,"type":"censor"},{"group":"med","time":12.3,"surv":0.635,"type":"censor"},{"group":"med","time":12.63,"surv":0.635,"type":"censor"},{"group":"med","time":12.96,"surv":0.635,"type":"censor"},
{"group":"high","time":0,"surv":1,"type":"step"},{"group":"high","time":0.4,"surv":0.985,"type":"step"},{"group":"high","time":0.7,"surv":0.97,"type":"step"},{"group":"high","time":0.85,"surv":0.955,"type":"step"},{"group":"high","time":0.95,"surv":0.935,"type":"step"},{"group":"high","time":1.05,"surv":0.915,"type":"step"},{"group":"high","time":1.1,"surv":0.9,"type":"step"},{"group":"high","time":1.2,"surv":0.854,"type":"step"},{"group":"high","time":1.3,"surv":0.832,"type":"step"},{"group":"high","time":1.5,"surv":0.815,"type":"step"},{"group":"high","time":1.6,"surv":0.79,"type":"step"},{"group":"high","time":1.7,"surv":0.777,"type":"step"},{"group":"high","time":2.0,"surv":0.762,"type":"step"},{"group":"high","time":2.1,"surv":0.737,"type":"step"},{"group":"high","time":2.3,"surv":0.723,"type":"step"},{"group":"high","time":2.5,"surv":0.712,"type":"step"},{"group":"high","time":2.65,"surv":0.686,"type":"step"},{"group":"high","time":2.75,"surv":0.672,"type":"step"},{"group":"high","time":2.85,"surv":0.657,"type":"step"},{"group":"high","time":3.1,"surv":0.645,"type":"step"},{"group":"high","time":3.25,"surv":0.635,"type":"step"},{"group":"high","time":3.7,"surv":0.625,"type":"step"},{"group":"high","time":3.9,"surv":0.613,"type":"step"},{"group":"high","time":4.05,"surv":0.606,"type":"step"},{"group":"high","time":4.2,"surv":0.596,"type":"step"},{"group":"high","time":4.4,"surv":0.588,"type":"step"},{"group":"high","time":4.75,"surv":0.581,"type":"step"},{"group":"high","time":5.05,"surv":0.572,"type":"step"},{"group":"high","time":5.3,"surv":0.566,"type":"step"},{"group":"high","time":5.9,"surv":0.55,"type":"step"},{"group":"high","time":14.36,"surv":0.55,"type":"end"},
{"group":"high","time":4.48,"surv":0.588,"type":"censor"},{"group":"high","time":4.63,"surv":0.588,"type":"censor"},{"group":"high","time":4.98,"surv":0.581,"type":"censor"},{"group":"high","time":5.47,"surv":0.566,"type":"censor"},
{"group":"high","time":6.23,"surv":0.55,"type":"censor"},{"group":"high","time":6.56,"surv":0.55,"type":"censor"},{"group":"high","time":7.0,"surv":0.55,"type":"censor"},{"group":"high","time":7.08,"surv":0.55,"type":"censor"},{"group":"high","time":7.14,"surv":0.55,"type":"censor"},{"group":"high","time":7.22,"surv":0.55,"type":"censor"},{"group":"high","time":7.27,"surv":0.55,"type":"censor"},{"group":"high","time":7.33,"surv":0.55,"type":"censor"},{"group":"high","time":7.49,"surv":0.55,"type":"censor"},{"group":"high","time":7.77,"surv":0.55,"type":"censor"},{"group":"high","time":7.85,"surv":0.55,"type":"censor"},{"group":"high","time":8.02,"surv":0.55,"type":"censor"},{"group":"high","time":8.13,"surv":0.55,"type":"censor"},{"group":"high","time":8.26,"surv":0.55,"type":"censor"},{"group":"high","time":8.37,"surv":0.55,"type":"censor"},{"group":"high","time":8.53,"surv":0.55,"type":"censor"},{"group":"high","time":8.61,"surv":0.55,"type":"censor"},{"group":"high","time":8.7,"surv":0.55,"type":"censor"},{"group":"high","time":8.78,"surv":0.55,"type":"censor"},{"group":"high","time":8.86,"surv":0.55,"type":"censor"},{"group":"high","time":8.95,"surv":0.55,"type":"censor"},{"group":"high","time":9.06,"surv":0.55,"type":"censor"},{"group":"high","time":9.13,"surv":0.55,"type":"censor"},{"group":"high","time":9.41,"surv":0.55,"type":"censor"},{"group":"high","time":9.48,"surv":0.55,"type":"censor"},{"group":"high","time":9.9,"surv":0.55,"type":"censor"},{"group":"high","time":10.01,"surv":0.55,"type":"censor"},{"group":"high","time":10.17,"surv":0.55,"type":"censor"},{"group":"high","time":10.25,"surv":0.55,"type":"censor"},{"group":"high","time":10.31,"surv":0.55,"type":"censor"},{"group":"high","time":10.59,"surv":0.55,"type":"censor"},{"group":"high","time":10.69,"surv":0.55,"type":"censor"},{"group":"high","time":11.05,"surv":0.55,"type":"censor"},{"group":"high","time":11.12,"surv":0.55,"type":"censor"},{"group":"high","time":11.7,"surv":0.55,"type":"censor"},{"group":"high","time":11.89,"surv":0.55,"type":"censor"},{"group":"high","time":12.22,"surv":0.55,"type":"censor"},{"group":"high","time":12.69,"surv":0.55,"type":"censor"},{"group":"high","time":12.98,"surv":0.55,"type":"censor"},{"group":"high","time":13.05,"surv":0.55,"type":"censor"},{"group":"high","time":13.38,"surv":0.55,"type":"censor"},{"group":"high","time":14.05,"surv":0.55,"type":"censor"},{"group":"high","time":14.19,"surv":0.55,"type":"censor"}
]
},
"spacing": 12,
"resolve": {"scale": {"color": "independent"}, "legend": {"color": "independent"}},
"vconcat": [
{"hconcat": [
{"title": {"text": "A. NKI, unadjusted ROR-S", "dx": -14, "offset": 13},
 "width": 456, "height": 244, "data": {"name": "A"},
 "encoding": {
  "x": {"field": "time", "type": "quantitative", "scale": {"domain": [-0.06, 19.09], "nice": false, "zero": false}, "axis": {"values": [0, 5, 10, 15], "title": "Time (years)"}},
  "y": {"field": "surv", "type": "quantitative", "scale": {"domain": [-0.04, 1.04], "nice": false}, "axis": {"values": [0, 0.2, 0.4, 0.6, 0.8, 1], "format": ".1f", "title": "Probability of Remaining Metastatis-free"}},
  "color": {"field": "group", "type": "nominal", "scale": {"domain": ["low", "med", "high"], "range": ["#33cc33", "#99c9df", "#cc1f1f"]}}
 },
 "layer": [
  {"transform": [{"filter": "datum.type != 'censor'"}], "mark": {"type": "line", "interpolate": "step-after"}, "encoding": {"strokeWidth": {"field": "group", "type": "nominal", "scale": {"domain": ["low", "med", "high"], "range": [1.8, 1.2, 1.8]}, "legend": null}}},
  {"transform": [{"filter": "datum.type == 'censor'"}], "mark": {"type": "tick", "orient": "vertical", "size": 9, "thickness": 1.2}},
  {"transform": [{"filter": "datum.type == 'end' && datum.group == 'low'"}], "mark": {"type": "text", "align": "right", "baseline": "middle"}, "encoding": {"x": {"datum": 18.88, "type": "quantitative"}, "y": {"datum": 0.058, "type": "quantitative"}, "text": {"value": "Log-rank P = 4.17e-05"}, "color": {"value": "black"}}}
 ]},
{"title": {"text": "B. NKI, 30% normal-adjusted ROR-S", "dx": -10, "offset": 13},
 "width": 447, "height": 244, "data": {"name": "B"},
 "encoding": {
  "x": {"field": "time", "type": "quantitative", "scale": {"domain": [-0.06, 19.06], "nice": false, "zero": false}, "axis": {"values": [0, 5, 10, 15], "title": "Time (years)"}},
  "y": {"field": "surv", "type": "quantitative", "scale": {"domain": [-0.04, 1.04], "nice": false}, "axis": {"values": [0, 0.2, 0.4, 0.6, 0.8, 1], "format": ".1f", "title": "Probability of Remaining Metastatis-free"}},
  "color": {"field": "group", "type": "nominal", "scale": {"domain": ["low", "med", "high"], "range": ["#33cc33", "#99c9df", "#d45555"]}}
 },
 "layer": [
  {"transform": [{"filter": "datum.type != 'censor'"}], "mark": {"type": "line", "interpolate": "step-after"}, "encoding": {"strokeWidth": {"field": "group", "type": "nominal", "scale": {"domain": ["low", "med", "high"], "range": [1.8, 1.2, 1.8]}, "legend": null}}},
  {"transform": [{"filter": "datum.type == 'censor'"}], "mark": {"type": "tick", "orient": "vertical", "size": 9, "thickness": 1.2}},
  {"transform": [{"filter": "datum.type == 'end' && datum.group == 'low'"}], "mark": {"type": "text", "align": "right", "baseline": "middle"}, "encoding": {"x": {"datum": 18.87, "type": "quantitative"}, "y": {"datum": 0.059, "type": "quantitative"}, "text": {"value": "Log-rank P = 0.000214"}, "color": {"value": "black"}}}
 ]}
], "spacing": 77.5, "resolve": {"scale": {"color": "independent"}, "legend": {"color": "independent"}}},
{"hconcat": [
{"title": {"text": [" ", "C. Naderi et al., unadjusted ROR-S"], "lineHeight": 13, "dx": -15.3, "offset": 21},
 "width": 459, "height": 246, "data": {"name": "C"},
 "encoding": {
  "x": {"field": "time", "type": "quantitative", "scale": {"domain": [-0.02, 13.83], "nice": false, "zero": false}, "axis": {"values": [0, 2, 4, 6, 8, 10, 12], "title": "Time (years)"}},
  "y": {"field": "surv", "type": "quantitative", "scale": {"domain": [-0.04, 1.04], "nice": false}, "axis": {"values": [0, 0.2, 0.4, 0.6, 0.8, 1], "format": ".1f", "title": "Probability of Remaining Metastatis-free"}},
  "color": {"field": "group", "type": "nominal", "scale": {"domain": ["low", "med", "high"], "range": ["#55dd55", "#99c9df", "#dd1a1a"]}}
 },
 "layer": [
  {"transform": [{"filter": "datum.type != 'censor'"}], "mark": {"type": "line", "interpolate": "step-after"}, "encoding": {"strokeWidth": {"field": "group", "type": "nominal", "scale": {"domain": ["low", "med", "high"], "range": [1.8, 1.2, 1.8]}, "legend": null}}},
  {"transform": [{"filter": "datum.type == 'censor'"}], "mark": {"type": "tick", "orient": "vertical", "size": 9, "thickness": 1.2}},
  {"transform": [{"filter": "datum.type == 'end' && datum.group == 'low'"}], "mark": {"type": "text", "align": "right", "baseline": "middle"}, "encoding": {"x": {"datum": 13.7, "type": "quantitative"}, "y": {"datum": 0.058, "type": "quantitative"}, "text": {"value": "Log-rank P = 0.127"}, "color": {"value": "black"}}}
 ]},
{"title": {"text": [" ", "D. Naderi et al., 20% normal-adjusted ROR-S"], "lineHeight": 13, "dx": -7.3, "offset": 21},
 "width": 451, "height": 247, "data": {"name": "D"},
 "encoding": {
  "x": {"field": "time", "type": "quantitative", "scale": {"domain": [0, 13.84], "nice": false, "zero": false}, "axis": {"values": [0, 2, 4, 6, 8, 10, 12], "title": "Time (years)"}},
  "y": {"field": "surv", "type": "quantitative", "scale": {"domain": [-0.04, 1.04], "nice": false}, "axis": {"values": [0, 0.2, 0.4, 0.6, 0.8, 1], "format": ".1f", "title": "Probability of Remaining Metastatis-free"}},
  "color": {"field": "group", "type": "nominal", "scale": {"domain": ["low", "med", "high"], "range": ["#33cc33", "#99c9df", "#b31515"]}}
 },
 "layer": [
  {"transform": [{"filter": "datum.type != 'censor'"}], "mark": {"type": "line", "interpolate": "step-after"}, "encoding": {"strokeWidth": {"field": "group", "type": "nominal", "scale": {"domain": ["low", "med", "high"], "range": [1.8, 1.2, 1.8]}, "legend": null}}},
  {"transform": [{"filter": "datum.type == 'censor'"}], "mark": {"type": "tick", "orient": "vertical", "size": 9, "thickness": 1.2}},
  {"transform": [{"filter": "datum.type == 'end' && datum.group == 'low'"}], "mark": {"type": "text", "align": "right", "baseline": "middle"}, "encoding": {"x": {"datum": 13.69, "type": "quantitative"}, "y": {"datum": 0.058, "type": "quantitative"}, "text": {"value": "Log-rank P = 0.0274"}, "color": {"value": "black"}}}
 ]}
], "spacing": 74.5, "resolve": {"scale": {"color": "independent"}, "legend": {"color": "independent"}}},
{"hconcat": [
{"title": {"text": "E. Wang et al., unadjusted ROR-S", "dx": -16, "offset": 21},
 "width": 459, "height": 247, "data": {"name": "E"},
 "encoding": {
  "x": {"field": "time", "type": "quantitative", "scale": {"domain": [0, 14.8], "nice": false, "zero": false}, "axis": {"values": [0, 2, 4, 6, 8, 10, 12, 14], "title": "Time (years)"}},
  "y": {"field": "surv", "type": "quantitative", "scale": {"domain": [-0.04, 1.04], "nice": false}, "axis": {"values": [0, 0.2, 0.4, 0.6, 0.8, 1], "format": ".1f", "title": "Probability of Remaining Metastatis-free"}},
  "color": {"field": "group", "type": "nominal", "scale": {"domain": ["low", "med", "high"], "range": ["#55dd55", "#99c9df", "#e04d4d"]}}
 },
 "layer": [
  {"transform": [{"filter": "datum.type != 'censor'"}], "mark": {"type": "line", "interpolate": "step-after"}, "encoding": {"strokeWidth": {"field": "group", "type": "nominal", "scale": {"domain": ["low", "med", "high"], "range": [1.8, 1.2, 1.8]}, "legend": null}}},
  {"transform": [{"filter": "datum.type == 'censor'"}], "mark": {"type": "tick", "orient": "vertical", "size": 9, "thickness": 1.2}},
  {"transform": [{"filter": "datum.type == 'end' && datum.group == 'low'"}], "mark": {"type": "text", "align": "right", "baseline": "middle"}, "encoding": {"x": {"datum": 14.65, "type": "quantitative"}, "y": {"datum": 0.058, "type": "quantitative"}, "text": {"value": "Log-rank P = 0.00343"}, "color": {"value": "black"}}}
 ]},
{"title": {"text": "F. Wang et al., 10% normal-adjusted ROR-S", "dx": -5.8, "offset": 21},
 "width": 451, "height": 246, "data": {"name": "F"},
 "encoding": {
  "x": {"field": "time", "type": "quantitative", "scale": {"domain": [0, 14.79], "nice": false, "zero": false}, "axis": {"values": [0, 2, 4, 6, 8, 10, 12, 14], "title": "Time (years)"}},
  "y": {"field": "surv", "type": "quantitative", "scale": {"domain": [-0.04, 1.04], "nice": false}, "axis": {"values": [0, 0.2, 0.4, 0.6, 0.8, 1], "format": ".1f", "title": "Probability of Remaining Metastatis-free"}},
  "color": {"field": "group", "type": "nominal", "scale": {"domain": ["low", "med", "high"], "range": ["#55dd55", "#99c9df", "#e84a4a"]}}
 },
 "layer": [
  {"transform": [{"filter": "datum.type != 'censor'"}], "mark": {"type": "line", "interpolate": "step-after"}, "encoding": {"strokeWidth": {"field": "group", "type": "nominal", "scale": {"domain": ["low", "med", "high"], "range": [1.8, 1.2, 1.8]}, "legend": null}}},
  {"transform": [{"filter": "datum.type == 'censor'"}], "mark": {"type": "tick", "orient": "vertical", "size": 9, "thickness": 1.2}},
  {"transform": [{"filter": "datum.type == 'end' && datum.group == 'low'"}], "mark": {"type": "text", "align": "right", "baseline": "middle"}, "encoding": {"x": {"datum": 14.63, "type": "quantitative"}, "y": {"datum": 0.056, "type": "quantitative"}, "text": {"value": "Log-rank P = 0.00347"}, "color": {"value": "black"}}}
 ]}
], "spacing": 74.5, "resolve": {"scale": {"color": "independent"}, "legend": {"color": "independent"}}}
]
}
